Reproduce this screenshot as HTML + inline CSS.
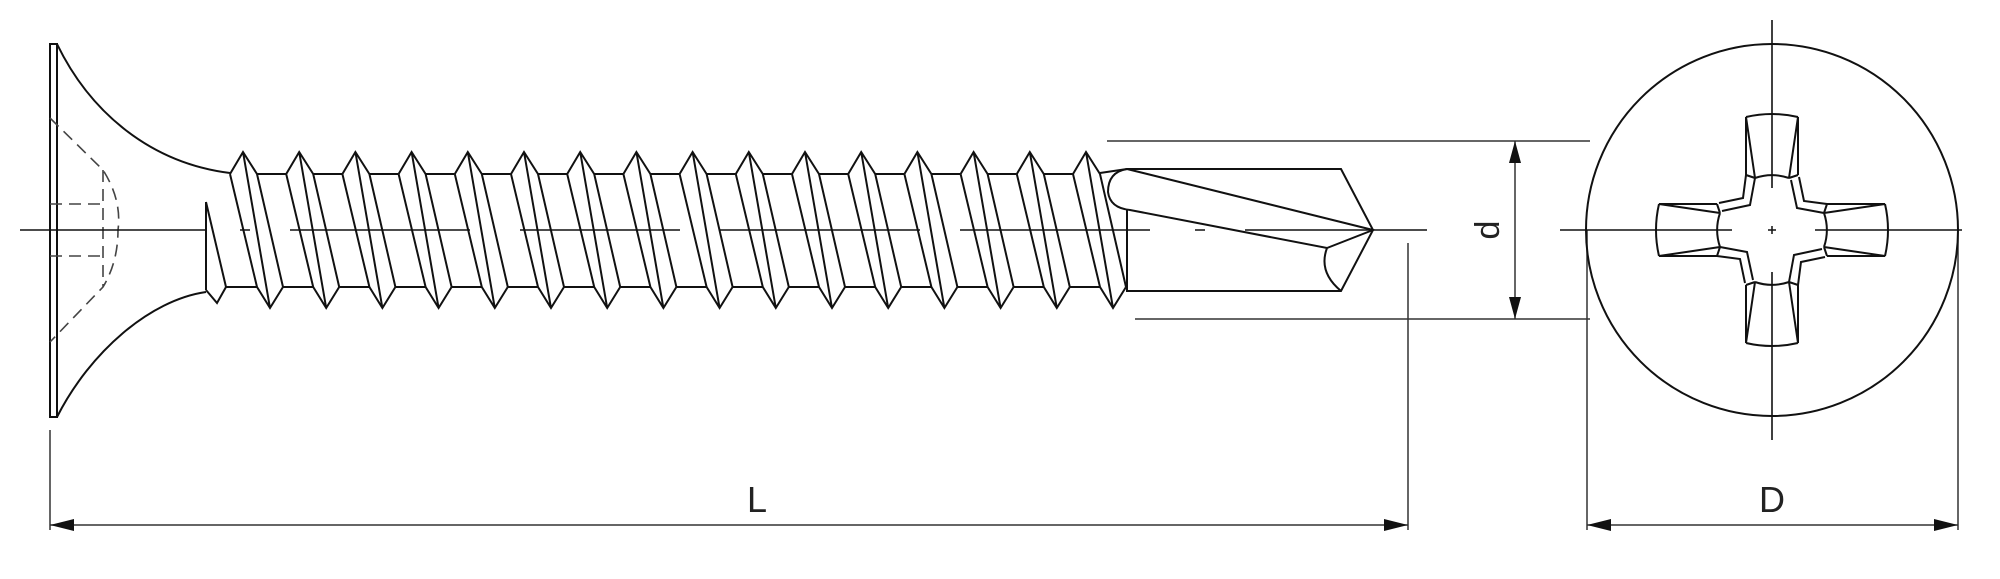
<!DOCTYPE html>
<html><head><meta charset="utf-8"><style>
html,body{margin:0;padding:0;background:#fff;}
svg{display:block;}
text{font-family:"Liberation Sans",sans-serif;fill:#222;}
</style></head><body>
<svg width="2000" height="579" viewBox="0 0 2000 579" xmlns="http://www.w3.org/2000/svg">
<defs>
<g id="t" fill="none" stroke="#111" stroke-width="2">
<path d="M-13,174 L0,152 L14,174 M-13,174 L14,287 M0,152 L27,308 M14,174 L40,287 M14,287 L27,308 L40,287 M14,174 L43,174 M40,287 L70,287"/>
</g>
<g id="tl" fill="none" stroke="#111" stroke-width="2">
<path d="M-13,174 L0,152 L14,174 M-13,174 L14,287 M0,152 L27,308 M14,174 L40,287 M14,287 L27,308 L40,287"/>
</g>
<g id="arm" fill="none" stroke="#111" stroke-width="2">
<path d="M-26,-113 Q0,-119 26,-113 M-26,-113 L-26,-55 M26,-113 L26,-55 M-26,-113 L-17,-52 M26,-113 L17,-52 M-26,-55 L-17,-52 M26,-55 L17,-52 M-26,-55 L-29,-32 L-53,-27 M-17,-52 L-22,-25 L-50,-19 M-17,-52 A53,53 0 0 1 17,-52"/>
</g>
</defs>
<g fill="none" stroke="#111" stroke-width="2">
<rect x="50" y="44" width="7" height="373"/>
<path d="M57,44 C90,112 150,163 230,173"/>
<path d="M57,417 C90,352 150,300 206,292"/>
<path d="M206,202 L206,290 M206,202 L226,287 M206,290 L217,303 L226,287 M226,287 L257,287"/>
<path stroke-dasharray="12,7" stroke-width="1.6" stroke="#444" d="M50,118 L103,170 Q122,200 118,230 Q118,262 103,287 L50,342 M103,170 L103,287 M50,204 L103,204 M50,256 L103,256"/>
<path d="M1100,173 L1127,169 L1341,169 L1373,230 L1341,291 L1127,291 L1127,209"/>
<path d="M1127,169 Q1108,172 1108,192 Q1110,208 1130,210 L1327,248 L1373,230 L1127,169 M1327,248 Q1318,272 1341,291"/>
<path stroke-width="1.5" stroke="#333" d="M1107,141 L1590,141 M1135,319 L1590,319 M1515,141 L1515,319 M1408,243 L1408,530 M50,430 L50,530 M50,525 L1408,525 M1587,230 L1587,530 M1958,230 L1958,530 M1587,525 L1958,525"/>
<circle cx="1772" cy="230" r="186"/>
</g>
<g fill="#111">
<path d="M1515,141 L1509,163 L1521,163Z M1515,319 L1509,297 L1521,297Z"/>
<path d="M50,525 L74,519 L74,531Z M1408,525 L1384,519 L1384,531Z"/>
<path d="M1587,525 L1611,519 L1611,531Z M1958,525 L1934,519 L1934,531Z"/>
</g>
<use href="#t" x="243"/><use href="#t" x="299.2"/><use href="#t" x="355.4"/><use href="#t" x="411.6"/>
<use href="#t" x="467.8"/><use href="#t" x="524"/><use href="#t" x="580.2"/><use href="#t" x="636.4"/>
<use href="#t" x="692.6"/><use href="#t" x="748.8"/><use href="#t" x="805"/><use href="#t" x="861.2"/>
<use href="#t" x="917.4"/><use href="#t" x="973.6"/><use href="#t" x="1029.8"/><use href="#tl" x="1086"/>
<g transform="translate(1772,230)">
<use href="#arm"/>
<use href="#arm" transform="rotate(90)"/>
<use href="#arm" transform="rotate(180)"/>
<use href="#arm" transform="rotate(270)"/>
<path d="M-4,0 L4,0 M0,-4 L0,4" stroke="#111" stroke-width="1.5"/>
</g>
<g stroke="#111" stroke-width="1.6">
<path d="M20,230 L205,230 M240,230 L250,230 M290,230 L470,230 M520,230 L680,230 M720,230 L920,230 M960,230 L1150,230 M1195,230 L1205,230 M1245,230 L1427,230"/>
<path d="M1560,230 L1732,230 M1815,230 L1962,230 M1772,20 L1772,188 M1772,272 L1772,440"/>
</g>
<text x="757" y="512" font-size="36" text-anchor="middle">L</text>
<text x="1772" y="512" font-size="36" text-anchor="middle">D</text>
<text transform="translate(1499,230) rotate(-90)" font-size="34" text-anchor="middle">d</text>
</svg>
</body></html>
